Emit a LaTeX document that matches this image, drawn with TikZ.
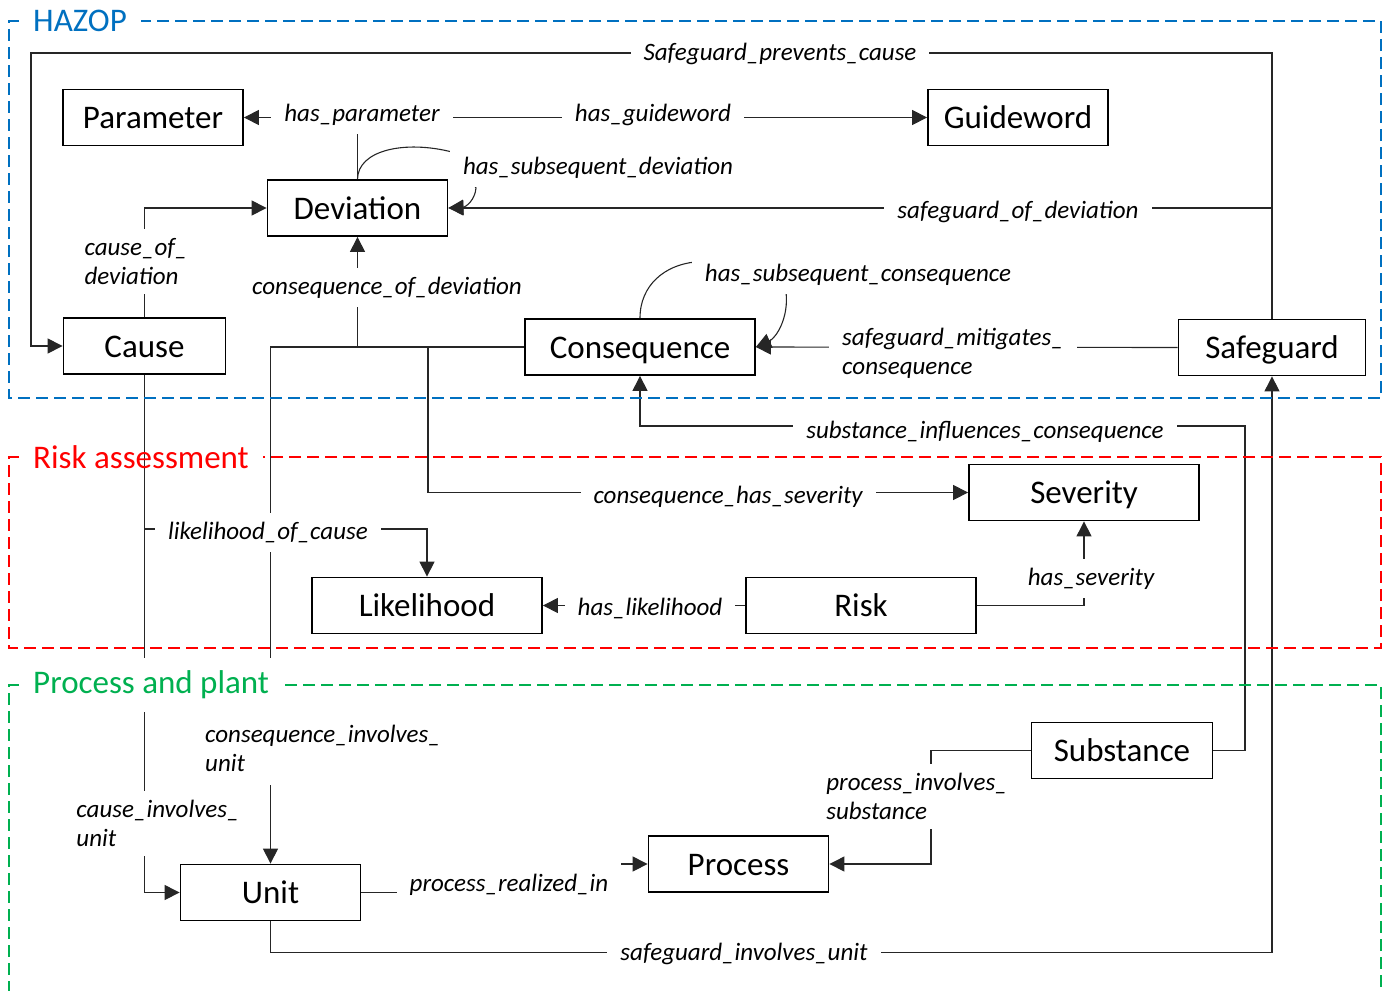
\documentclass[tikz,border=0pt]{standalone}
\usepackage{fontspec}
\setmainfont{Carlito}
\usetikzlibrary{arrows.meta}
\definecolor{hzblue}{RGB}{0,112,192}
\definecolor{rared}{RGB}{255,0,0}
\definecolor{ppgreen}{RGB}{0,176,80}
\begin{document}
\begin{tikzpicture}[x=1pt,y=-1pt,
  cls/.style={draw=black,line width=1.8pt,fill=white,minimum height=56pt,inner sep=0pt,text height=25pt,text depth=3pt,font=\fontsize{33}{38}\selectfont},
  rel/.style={fill=white,inner xsep=13pt,inner ysep=9pt,yshift=-1.5pt,font=\fontsize{25}{29}\selectfont\itshape,align=left},
  conn/.style={line width=1.1pt,draw=black!85},
  arr/.style={conn,-{Triangle[length=15pt,width=15pt]}},
  grp/.style={line width=1.8pt,dash pattern=on 12pt off 6pt},
  ftitle/.style={inner xsep=14pt,inner ysep=13pt,font=\fontsize{33}{38}\selectfont,anchor=west}]
\useasboundingbox (0,0) rectangle (1388,990);
\clip (0,0) rectangle (1388,990);
% classes
\node[cls,minimum width=180pt] (par) at (153,117.5) {Parameter};
\node[cls,minimum width=180pt] (gw) at (1018,117.5) {Guideword};
\node[cls,minimum width=180pt] (dev) at (357.5,208) {Deviation};
\node[cls,minimum width=162pt] (cau) at (144.5,346) {Cause};
\node[cls,minimum width=230pt] (csq) at (640,347) {Consequence};
\node[cls,minimum width=187pt] (saf) at (1272,347.5) {Safeguard};
\node[cls,minimum width=230pt] (sev) at (1084,492.5) {Severity};
\node[cls,minimum width=230pt] (lik) at (427,605.5) {Likelihood};
\node[cls,minimum width=230pt] (risk) at (861,605.5) {Risk};
\node[cls,minimum width=181pt] (sub) at (1122,750.5) {Substance};
\node[cls,minimum width=180pt] (proc) at (738.5,864) {Process};
\node[cls,minimum width=180pt] (unit) at (270.5,892.5) {Unit};
% connectors
\draw[arr] (saf.north) -- (1272,53) -- (31,53) |- (cau.west);
\draw[arr] (saf.north) |- (dev.east);
\draw[arr] (dev.north) |- (par.east);
\draw[arr] (dev.north) |- (gw.west);
\draw[arr] (dev.north) .. controls (358,150) and (405,140) .. (452,152) -- (476,188) .. controls (475,200) and (466,207) .. (dev.east);
\draw[arr] (cau.north) |- (dev.west);
\draw[arr] (csq.west) -| (dev.south);
\draw[arr] (csq.west) -- (428,347) |- (sev.west);
\draw[arr] (csq.west) -| (unit.north);
\draw[arr] (csq.north) .. controls (640,285) and (665,265) .. (695,262) -- (786,292) .. controls (789,318) and (776,338) .. (csq.east);
\draw[arr] (saf.west) -- (csq.east);
\draw[arr] (sub.east) -- (1245,750.5) -- (1245,426) -| (csq.south);
\draw[arr] (unit.south) -- (270.5,952.5) -| (saf.south);
\draw[arr] (cau.south) -- (144.5,529) -| (lik.north);
\draw[arr] (cau.south) |- (unit.west);
\draw[arr] (risk.west) -- (lik.east);
\draw[arr] (risk.east) -| (sev.south);
\draw[arr] (unit.east) -- (510,892.5) -- (510,864) -- (proc.west);
\draw[arr] (sub.west) -- (931,750.5) |- (proc.east);
% relation labels
\node[rel] (lspc) at (780,52) {Safeguard\_prevents\_cause};
\node[rel] (lhp) at (362,113) {has\_parameter};
\node[rel] (lhg) at (653,113) {has\_guideword};
\node[rel] (lhsd) at (598,166) {has\_subsequent\_deviation};
\node[rel] (lsod) at (1018,210) {safeguard\_of\_deviation};
\node[rel] (lcod) at (136,260) {cause\_of\_\\deviation};
\node[rel] (lcsod) at (387,286) {consequence\_of\_deviation};
\node[rel] (lhsc) at (858,273) {has\_subsequent\_consequence};
\node[rel] (lsmc) at (953,352) {safeguard\_mitigates\_\\consequence};
\node[rel] (lsic) at (985,430) {substance\_influences\_consequence};
\node[rel] (lchs) at (728,495) {consequence\_has\_severity};
\node[rel] (lloc) at (268,531) {likelihood\_of\_cause};
\node[rel] (lhl) at (650,607) {has\_likelihood};
\node[rel] (lhs) at (1091,577) {has\_severity};
\node[rel,inner ysep=13pt] (lciu) at (323,747) {consequence\_involves\_\\unit};
\node[rel] (lcau) at (158,822) {cause\_involves\_\\unit};
\node[rel] (lpis) at (917,795) {process\_involves\_\\substance};
\node[rel,inner ysep=15pt] (lpri) at (509,883) {process\_realized\_in};
\node[rel] (lsiu) at (744,952) {safeguard\_involves\_unit};
% group frames
\node[ftitle,text=hzblue] (thz) at (19,21) {HAZOP};
\draw[grp,draw=hzblue] (thz.west) -- (9,21) -- (9,398) -- (1381,398) -- (1381,21) -- (thz.east);
\node[ftitle,text=rared] (tra) at (19,457) {Risk assessment};
\draw[grp,draw=rared] (tra.west) -- (9,457) -- (9,648) -- (1381,648) -- (1381,457) -- (tra.east);
\node[ftitle,text=ppgreen,fill=white] (tpp) at (19,685) {Process and plant};
\draw[grp,draw=ppgreen] (tpp.west) -- (9,685) -- (9,1000) -- (1381,1000) -- (1381,685) -- (tpp.east);
\end{tikzpicture}
\end{document}
